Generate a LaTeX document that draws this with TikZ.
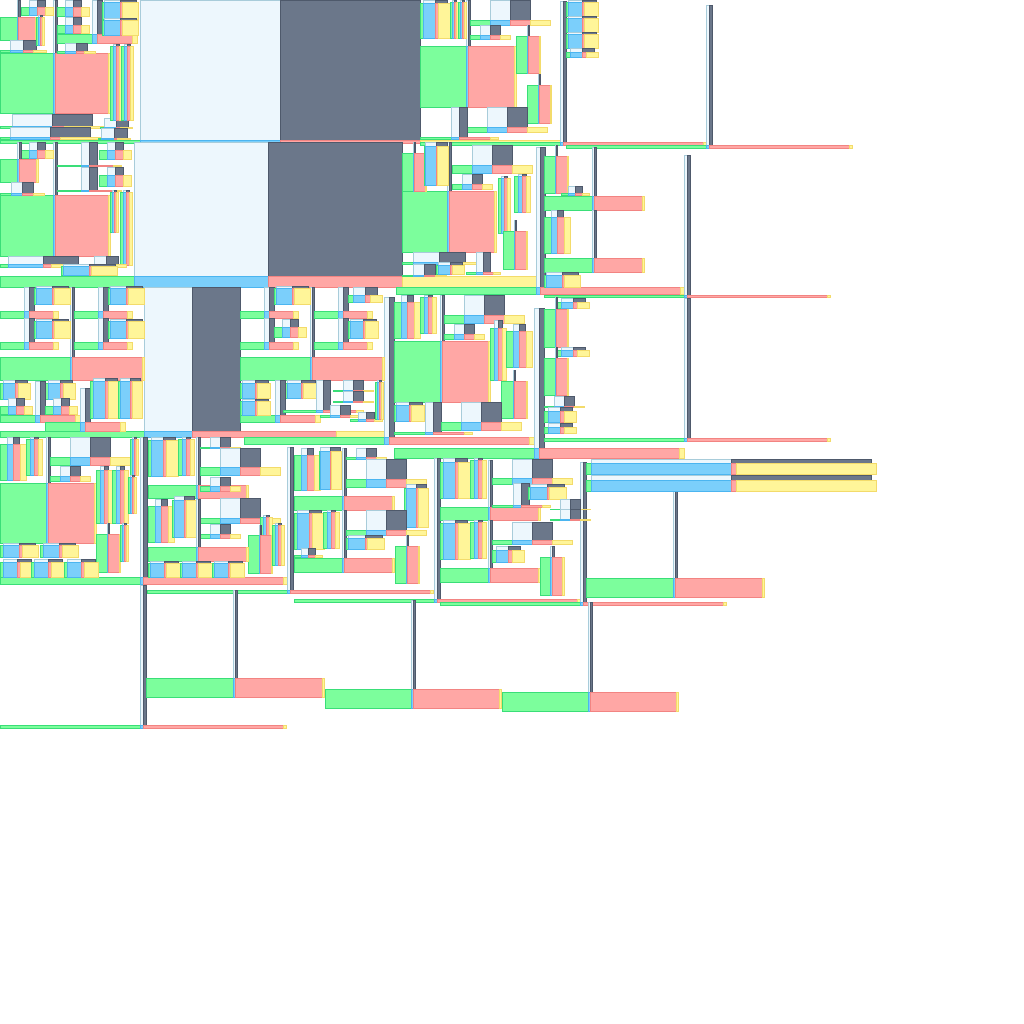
\documentclass[tikz,border=0pt]{standalone}
\usepackage{tikz}
\definecolor{ltF}{HTML}{EDF7FD}
\definecolor{ltE}{HTML}{A8CCDA}
\definecolor{dkF}{HTML}{6B778A}
\definecolor{dkE}{HTML}{4E596B}
\definecolor{grF}{HTML}{7CFE9C}
\definecolor{grE}{HTML}{3ADE78}
\definecolor{blF}{HTML}{7BCFFB}
\definecolor{blE}{HTML}{4BB5F0}
\definecolor{saF}{HTML}{FFA7A5}
\definecolor{saE}{HTML}{F28482}
\definecolor{yeF}{HTML}{FFF599}
\definecolor{yeE}{HTML}{F3DB6B}

% x y a b t s : [c a | L b | D b | c a] over [G a | B b | S a | Y b]
\newcommand{\motif}[6]{%
  \path[ltbox] ({#1+#3},#2) rectangle ++(#4,#5);
  \path[dkbox] ({#1+#3+#4},#2) rectangle ++(#4,#5);
  \path[grbox] (#1,{#2+#5}) rectangle ++(#3,#6);
  \path[blbox] ({#1+#3},{#2+#5}) rectangle ++(#4,#6);
  \path[sabox] ({#1+#3+#4},{#2+#5}) rectangle ++(#3,#6);
  \path[yebox] ({#1+2*#3+#4},{#2+#5}) rectangle ++(#4,#6);
}

\begin{document}
\begin{tikzpicture}[
  x=1pt, y=-1pt,
  tile/.style={line width=0.8pt},
  ltbox/.style={tile, fill=ltF, draw=ltE},
  dkbox/.style={tile, fill=dkF, draw=dkE},
  grbox/.style={tile, fill=grF, draw=grE},
  blbox/.style={tile, fill=blF, draw=blE},
  sabox/.style={tile, fill=saF, draw=saE},
  yebox/.style={tile, fill=yeF, draw=yeE}
]
\fill[white] (0,0) rectangle (1024,1024);
\useasboundingbox (0,0) rectangle (1024,1024);

% band 1
\motif{0}{0}{140}{140}{140}{3}
\motif{420}{1}{140}{3}{141}{3}
\motif{566}{5}{140}{3}{140}{3}
\motif{0}{0}{53}{2}{53}{60}
\motif{0}{0}{17}{1.5}{17}{23}
\motif{21}{0}{8}{8}{7}{8}
\motif{0}{40}{10}{13}{10}{2}
\motif{57}{0}{35}{5}{34}{9}
\motif{57}{0}{8}{8}{7}{9}
\motif{57}{17}{8}{8}{8}{8}
\motif{102}{0}{2}{16}{2}{17}
\motif{102}{18}{2}{16}{2}{15}
\motif{57}{43}{8}{11}{8}{2}
\motif{0}{114}{12}{40}{12}{2}
\motif{0}{127}{10}{40}{10}{2}
\motif{100}{118}{4}{12}{9}{1}
\motif{98}{128}{3}{13}{10}{1}
\motif{110}{44}{3}{3}{2}{74}
\motif{121}{44}{3}{3}{2}{74}
\motif{36}{15}{2}{2}{2}{28}
\motif{420}{0}{46}{2}{46}{61}
\motif{420}{0}{3}{12}{3}{35}
\motif{450}{0}{2}{2}{2}{36}
\motif{458}{0}{2}{2}{2}{36}
\motif{470}{0}{20}{20}{20}{5}
\motif{470}{25}{10}{10}{10}{4}
\motif{516}{25}{11}{1}{11}{37}
\motif{527}{74}{11}{1}{11}{38}
\motif{467}{107}{20}{20}{20}{5}
\motif{420}{107}{31}{8}{30}{2}
\motif{566}{0}{2}{14}{2}{14}
\motif{566}{16}{2}{14}{2}{14}
\motif{566}{32}{2}{14}{2}{14}
\motif{566}{48}{4}{12}{4}{5}

% band 2
\motif{0}{142}{134}{134}{134}{11}
\motif{396}{147}{140}{4.5}{140}{7}
\motif{544}{155}{140}{3}{140}{2.5}
\motif{0}{142}{53}{2}{53}{61}
\motif{21}{142}{8}{8}{8}{8}
\motif{0}{142}{17}{2}{17}{23}
\motif{0}{182}{11}{11}{11}{2}
\motif{57}{142}{24}{8}{23}{1}
\motif{57}{167}{24}{8}{23}{1}
\motif{99}{142}{8}{8}{8}{9}
\motif{99}{167}{8}{8}{8}{11}
\motif{110}{190}{2}{2}{2}{40}
\motif{120}{190}{3}{3}{2}{73}
\motif{0}{256}{8}{35}{8}{3}
\motif{86}{256}{8}{12}{8}{3}
\motif{61}{264}{2}{26}{2}{9}
\motif{402}{142}{45}{2}{49}{61}
\motif{402}{142}{11}{1}{11}{38}
\motif{424}{142}{1}{11}{4}{39}
\motif{452}{145}{20}{20}{20}{8}
\motif{452}{174}{10}{10}{10}{5}
\motif{498}{176}{3}{3}{2}{55}
\motif{514}{174}{4}{4}{2}{36}
\motif{503}{220}{11}{1}{11}{38}
\motif{402}{252}{11}{26}{10}{2}
\motif{466}{252}{10}{7}{20}{2}
\motif{402}{264}{11}{11}{11}{1}
\motif{436}{262}{2}{12}{3}{9}
\motif{544}{145}{11}{1}{11}{37}
\motif{544}{147}{48}{2}{49}{14}
\motif{544}{210}{7}{6}{7}{36}
\motif{544}{210}{48}{2}{48}{14}
\motif{561}{186}{7}{7}{7}{2}
\motif{544}{272}{2}{16}{3}{12}

% band 3
\motif{0}{287}{144}{48}{144}{6}
\motif{244}{297}{140}{5}{140}{7}
\motif{394}{308}{140}{5}{140}{10}
\motif{544}{298}{140}{3}{140}{3}
\motif{0}{287}{70}{2}{70}{23}
\motif{0}{287}{24}{5}{24}{7}
\motif{0}{318}{24}{5}{24}{7}
\motif{34}{286}{2}{16}{2}{16}
\motif{34}{319}{2}{16}{2}{17}
\motif{74}{287}{24}{5}{24}{7}
\motif{74}{318}{24}{5}{24}{7}
\motif{108}{286}{2}{16}{2}{16}
\motif{108}{319}{2}{16}{2}{17}
\motif{0}{380}{3}{12}{3}{16}
\motif{45}{380}{3}{12}{3}{16}
\motif{0}{381}{35}{5}{34}{7}
\motif{0}{398}{8}{8}{8}{8}
\motif{45}{398}{8}{8}{8}{8}
\motif{45}{388}{35}{5}{34}{9}
\motif{90}{378}{3}{12}{3}{37}
\motif{118}{378}{2}{10}{3}{37}
\motif{240}{287}{70}{2}{70}{23}
\motif{240}{287}{24}{5}{24}{7}
\motif{240}{318}{24}{5}{24}{7}
\motif{274}{286}{2}{16}{2}{16}
\motif{274}{319}{8}{8}{8}{10}
\motif{314}{287}{24}{5}{24}{7}
\motif{314}{318}{24}{5}{24}{7}
\motif{348}{287}{5}{12}{8}{7}
\motif{348}{319}{2}{13}{2}{17}
\motif{240}{380}{2}{13}{3}{15}
\motif{285}{380}{2}{14}{3}{15}
\motif{240}{380}{35}{5}{35}{7}
\motif{240}{399}{2}{13}{2}{14}
\motif{283}{380}{33}{7}{30}{2}
\motif{333}{380}{10}{10}{10}{1}
\motif{333}{391}{10}{10}{10}{1}
\motif{320}{405}{10}{10}{10}{2}
\motif{350}{412}{8}{8}{7}{2}
\motif{375}{380}{2}{2}{2}{37}
\motif{394}{295}{46}{2}{46}{61}
\motif{394}{295}{7}{6}{7}{36}
\motif{420}{295}{4}{4}{2}{36}
\motif{444}{295}{20}{20}{20}{8}
\motif{444}{324}{10}{10}{10}{5}
\motif{490}{320}{4}{4}{8}{52}
\motif{506}{324}{7}{6}{7}{36}
\motif{501}{370}{12}{1}{11}{37}
\motif{394}{402}{31}{8}{30}{2}
\motif{441}{402}{20}{20}{20}{8}
\motif{394}{402}{2}{13}{3}{16}
\motif{557}{298}{4}{12}{4}{6}
\motif{544}{297}{11}{1}{12}{38}
\motif{557}{347}{4}{12}{3}{6}
\motif{544}{347}{11}{1}{11}{37}
\motif{544}{396}{10}{10}{10}{1}
\motif{544}{407}{4}{12}{4}{11}
\motif{544}{423}{4}{12}{4}{6}

% band 4
\motif{0}{437}{140}{3.5}{140}{7}
\motif{147}{447}{140}{3}{143}{3}
\motif{294}{458}{140}{3}{141}{3}
\motif{440}{462}{140}{3}{140}{3}
\motif{586}{462}{87}{2}{116}{19}
\motif{586}{459}{5}{140}{4}{11}
\motif{586}{475}{5}{140}{5}{11}
\motif{0}{437}{46}{2}{46}{60}
\motif{0}{437}{7}{6}{7}{36}
\motif{26}{437}{4}{4}{2}{36}
\motif{50}{437}{20}{20}{20}{8}
\motif{50}{466}{10}{10}{10}{5}
\motif{96}{466}{4}{4}{4}{53}
\motif{112}{466}{4}{4}{4}{53}
\motif{130}{437}{2}{2}{2}{36}
\motif{96}{523}{11}{1}{11}{38}
\motif{120}{523}{2}{2}{2}{36}
\motif{128}{475}{2}{2}{2}{36}
\motif{0}{543}{3}{16}{2}{12}
\motif{40}{543}{3}{16}{2}{12}
\motif{0}{559}{3}{14}{3}{15}
\motif{31}{559}{3}{14}{3}{15}
\motif{64}{559}{3}{14}{3}{15}
\motif{148}{437}{48}{2}{48}{13}
\motif{148}{437}{3}{12}{3}{36}
\motif{178}{437}{4}{4}{2}{36}
\motif{200}{437}{10}{10}{10}{1}
\motif{200}{448}{20}{20}{19}{8}
\motif{200}{477}{10}{10}{9}{5}
\motif{148}{499}{7}{6}{7}{36}
\motif{172}{496}{2}{10}{4}{37}
\motif{200}{498}{20}{20}{20}{5}
\motif{200}{524}{10}{10}{10}{4}
\motif{260}{515}{3}{3}{2}{47}
\motif{248}{525}{11}{1}{10}{38}
\motif{272}{523}{3}{3}{2}{40}
\motif{148}{499}{48}{2}{48}{14}
\motif{148}{561}{2}{14}{2}{14}
\motif{180}{561}{2}{14}{2}{14}
\motif{212}{561}{2}{14}{2}{14}
\motif{294}{448}{48}{2}{48}{14}
\motif{294}{448}{7}{6}{7}{35}
\motif{319}{447}{1}{10}{4}{38}
\motif{346}{448}{10}{10}{9}{2}
\motif{346}{459}{20}{20}{20}{8}
\motif{404}{484}{2}{10}{4}{39}
\motif{294}{510}{48}{2}{48}{14}
\motif{346}{510}{20}{20}{20}{5}
\motif{346}{535}{2}{17}{3}{11}
\motif{294}{510}{3}{12}{3}{36}
\motif{323}{510}{4}{4}{2}{36}
\motif{294}{548}{7}{7}{7}{2}
\motif{395}{535}{11}{1}{11}{37}
\motif{440}{458}{3}{12}{4}{36}
\motif{470}{458}{4}{4}{2}{38}
\motif{440}{460}{48}{2}{47}{13}
\motif{492}{459}{20}{20}{19}{6}
\motif{492}{483}{21}{8}{22}{2}
\motif{528}{484}{2}{17}{3}{12}
\motif{550}{499}{10}{10}{10}{0.5}
\motif{550}{509}{10}{10}{10}{1}
\motif{440}{520}{48}{2}{48}{14}
\motif{440}{520}{3}{12}{3}{36}
\motif{470}{520}{4}{4}{2}{36}
\motif{492}{522}{20}{20}{18}{4}
\motif{492}{546}{4}{12}{4}{12}
\motif{540}{546}{10}{2}{11}{38}

% band 5
\motif{0}{585}{140}{3}{140}{3}
\motif{146}{590}{87}{2}{88}{19}
\motif{325}{600}{86}{2}{89}{19}
\motif{502}{602}{86}{2}{90}{19}
\end{tikzpicture}
\end{document}
